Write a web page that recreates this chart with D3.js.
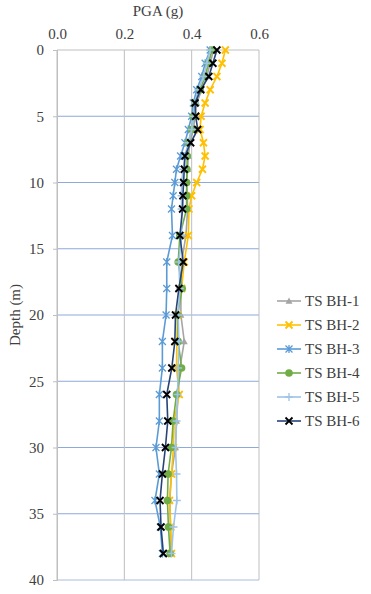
<!DOCTYPE html>
<html><head><meta charset="utf-8">
<script src="https://cdn.jsdelivr.net/npm/d3@7"></script>
<style>body{margin:0;background:#fff}svg{display:block}</style>
</head><body><svg id="c" width="371" height="594"></svg>
<script>
const depths = [0,1,2,3,4,5,6,7,8,9,10,11,12,14,16,18,20,22,24,26,28,30,32,34,36,38];
const seriesNames = ["TS BH-1","TS BH-2","TS BH-3","TS BH-4","TS BH-5","TS BH-6"];
const bh1 = [.465,.455,.445,.43,.415,.41,.405,.395,.39,.388,.385,.387,.388,.383,.37,.368,.368,.378,.365,.36,.355,.352,.34,.335,.337,.338];
const bh2 = [.50,.49,.475,.455,.44,.428,.425,.435,.44,.432,.415,.40,.392,.39,.378,.37,.358,.356,.355,.363,.348,.346,.34,.334,.338,.34];
const bh3 = [.455,.44,.43,.415,.405,.40,.39,.38,.367,.355,.35,.345,.34,.343,.326,.326,.324,.313,.313,.304,.304,.294,.304,.291,.307,.313];
const bh4 = [.46,.45,.44,.425,.41,.405,.40,.39,.387,.386,.385,.385,.385,.365,.36,.372,.358,.36,.37,.355,.345,.34,.33,.328,.331,.336];
const bh5 = [.455,.445,.435,.42,.41,.405,.40,.39,.38,.375,.37,.37,.37,.37,.362,.365,.36,.362,.36,.358,.355,.352,.355,.356,.346,.34];
const bh6 = [.475,.463,.451,.427,.41,.412,.418,.397,.38,.378,.376,.374,.373,.365,.375,.362,.352,.35,.341,.326,.329,.322,.313,.306,.309,.316];
const xTicks = [0,0.2,0.4,0.6];
const yTicks = [0,5,10,15,20,25,30,35,40];

const values = [bh1,bh2,bh3,bh4,bh5,bh6];
const colors = ["#A5A5A5","#FFC000","#5B9BD5","#70AD47","#9DC3E6","#264478"];
const markerColors = ["#A5A5A5","#FFC000","#5B9BD5","#70AD47","#9DC3E6","#000000"];
const markers = ["tri","x","star","circle","plus","x"];
const FONT = "Liberation Serif";
const FS = 15;

const svg = d3.select("#c");
const x = d3.scaleLinear().domain([0,0.6]).range([57,259]);
const y = d3.scaleLinear().domain([0,40]).range([50,580]);

svg.append("g").selectAll("line").data(yTicks.filter(d=>d>0&&d<40)).join("line")
  .attr("x1",x(0)).attr("x2",x(0.6)).attr("y1",d=>y(d)).attr("y2",d=>y(d))
  .attr("stroke","#8EA9DB").attr("stroke-width",1);
svg.append("g").selectAll("line").data(xTicks).join("line")
  .attr("x1",d=>x(d)).attr("x2",d=>x(d)).attr("y1",y(0)).attr("y2",y(40))
  .attr("stroke","#BFBFBF").attr("stroke-width",1);
svg.append("line").attr("x1",x(0)).attr("x2",x(0.6)).attr("y1",y(0)).attr("y2",y(0)).attr("stroke","#BFBFBF");
svg.append("line").attr("x1",x(0)).attr("x2",x(0.6)).attr("y1",y(40)).attr("y2",y(40)).attr("stroke","#A9BCDD");

const xa = svg.append("g").attr("transform",`translate(0,${y(0)})`)
  .call(d3.axisTop(x).tickValues(xTicks).tickFormat(d3.format(".1f")).tickSize(0).tickPadding(11));
xa.select(".domain").remove();
xa.attr("font-family",FONT).attr("font-size",FS);
xa.selectAll("text").attr("fill","#404040");
const ya = svg.append("g").attr("transform",`translate(${x(0)},0)`)
  .call(d3.axisLeft(y).tickValues(yTicks).tickSize(4).tickPadding(9));
ya.select(".domain").attr("stroke","#BFBFBF");
ya.selectAll(".tick line").attr("stroke","#BFBFBF");
ya.attr("font-family",FONT).attr("font-size",FS);
ya.selectAll("text").attr("fill","#404040");

svg.append("text").attr("x",x(0.3)).attr("y",16).attr("text-anchor","middle")
  .attr("font-family",FONT).attr("font-size",FS).attr("fill","#404040").text("PGA (g)");
svg.append("text").attr("transform",`translate(20,${y(20)}) rotate(-90)`).attr("text-anchor","middle")
  .attr("font-family",FONT).attr("font-size",FS).attr("fill","#404040").text("Depth (m)");

function drawMarker(g, type, color){
  const r = 3.5;
  if(type==="tri"){
    g.append("path").attr("d",`M0,${-r}L${r},${r*0.8}L${-r},${r*0.8}Z`).attr("fill",color);
  } else if(type==="circle"){
    g.append("circle").attr("r",r+0.3).attr("fill",color);
  } else if(type==="x"){
    g.append("path").attr("d",`M${-r},${-r}L${r},${r}M${-r},${r}L${r},${-r}`).attr("stroke",color).attr("stroke-width",1.8);
  } else if(type==="star"){
    g.append("path").attr("d",`M${-r},${-r}L${r},${r}M${-r},${r}L${r},${-r}M0,${-r-0.5}L0,${r+0.5}`).attr("stroke",color).attr("stroke-width",1.3);
  } else if(type==="plus"){
    g.append("path").attr("d",`M${-r-0.5},0L${r+0.5},0M0,${-r-0.5}L0,${r+0.5}`).attr("stroke",color).attr("stroke-width",1.3);
  }
}

const line = d3.line().x(d=>x(d[1])).y(d=>y(d[0]));
values.forEach((vals,i)=>{
  const pts = depths.map((d,j)=>[d,vals[j]]);
  const g = svg.append("g");
  g.append("path").datum(pts).attr("d",line).attr("fill","none").attr("stroke",colors[i]).attr("stroke-width",1.6);
  pts.forEach(p=>{
    const mg = g.append("g").attr("transform",`translate(${x(p[1])},${y(p[0])})`);
    drawMarker(mg, markers[i], markerColors[i]);
  });
});

const leg = svg.append("g");
seriesNames.forEach((n,i)=>{
  const ly = 301 + i*24;
  leg.append("line").attr("x1",277).attr("x2",301).attr("y1",ly).attr("y2",ly).attr("stroke",colors[i]).attr("stroke-width",1.6);
  const mg = leg.append("g").attr("transform",`translate(289,${ly})`);
  drawMarker(mg, markers[i], markerColors[i]);
  leg.append("text").attr("x",305).attr("y",ly+5).attr("font-family",FONT).attr("font-size",FS).attr("fill","#404040").text(n);
});
</script></body></html>
